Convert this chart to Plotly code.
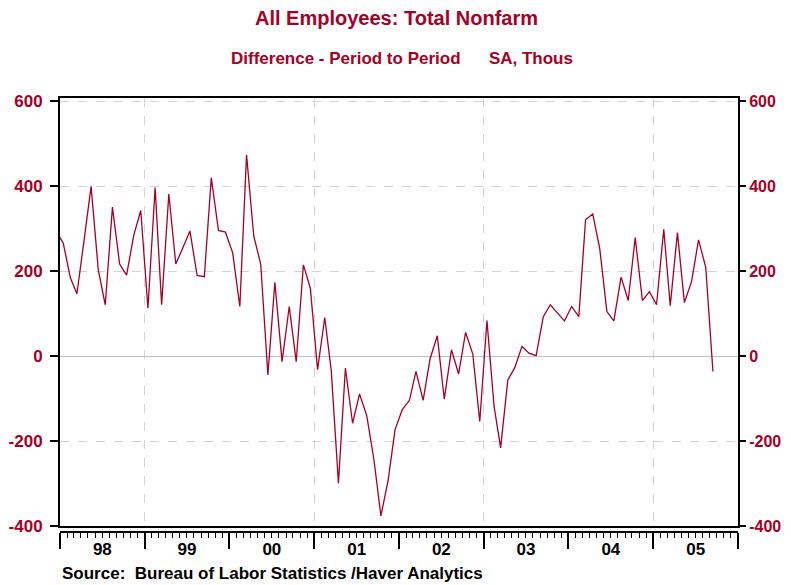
import plotly.graph_objects as go

# ---- data (monthly change, SA, thousands) ----
months = (["1997-12"] +
          [f"{y}-{m:02d}" for y in range(1998, 2005) for m in range(1, 13)] +
          [f"2005-{m:02d}" for m in range(1, 10)])
values_1997 = [295]
values_1998 = [266, 184, 147, 274, 400, 203, 121, 351, 217, 191, 285, 343]
values_1999 = [113, 397, 121, 382, 217, 256, 295, 190, 187, 420, 296, 292]
values_2000 = [244, 117, 474, 283, 217, -44, 174, -13, 117, -13, 215, 160]
values_2001 = [-32, 91, -34, -299, -28, -158, -89, -140, -244, -376, -293, -173]
values_2002 = [-126, -104, -36, -104, -6, 48, -101, 15, -42, 56, 5, -154]
values_2003 = [84, -119, -216, -56, -27, 23, 7, 1, 93, 121, 101, 83]
values_2004 = [117, 93, 321, 335, 254, 105, 83, 186, 131, 279, 131, 152]
values_2005 = [121, 299, 119, 291, 126, 176, 274, 209, -36]
values = (values_1997 + values_1998 + values_1999 + values_2000 + values_2001 +
          values_2002 + values_2003 + values_2004 + values_2005)
dates = [m + "-15" for m in months]

y_ticks = [600, 400, 200, 0, -200, -400]
y_ticktext = [str(v) for v in y_ticks]
x_range = ["1998-01-01", "2006-01-01"]
y_range = [-400, 608]

RED = "#a50026"
FONT = "Liberation Sans, Arial, sans-serif"

# page body has an 8px default margin -> compensate
OFF = 8
W, H = 791 - OFF, 585 - OFF
top = 98 - OFF
bottom_margin = 53
left = 60 - OFF
right = W - (738 - OFF)
paper_h = H - top - bottom_margin
plot_bottom_px = 526 - OFF
dom0 = (H - bottom_margin - plot_bottom_px) / paper_h


def py(px):
    """page pixel (from reference) -> paper fraction"""
    return (H - bottom_margin - (px - OFF)) / paper_h


fig = go.Figure()
fig.add_trace(go.Scatter(x=dates, y=values, mode="lines",
                         line=dict(color=RED, width=1.3), showlegend=False,
                         hoverinfo="x+y"))
# invisible trace to activate the secondary axes
fig.add_trace(go.Scatter(x=dates, y=values, mode="lines", xaxis="x2", yaxis="y2",
                         line=dict(color="rgba(0,0,0,0)", width=0), showlegend=False,
                         hoverinfo="skip"))

fig.update_layout(
    width=W, height=H,
    margin=dict(l=left, r=right, t=top, b=bottom_margin, autoexpand=False),
    paper_bgcolor="white", plot_bgcolor="white",
    font=dict(family=FONT, color="black"),
    xaxis=dict(type="date", range=x_range, showticklabels=False, ticks="",
               showgrid=True, dtick="M24", tick0="1999-01-01",
               gridcolor="#d3d3d3", griddash="dash", gridwidth=1.2,
               showline=True, linecolor="black", linewidth=2, mirror=True,
               zeroline=False, anchor="y"),
    xaxis2=dict(type="date", range=x_range, overlaying="x", anchor="free", position=0,
                side="bottom", showgrid=False, zeroline=False,
                showline=True, linecolor="black", linewidth=2,
                ticks="outside", ticklen=16, tickwidth=2, tickcolor="black",
                dtick="M12", tick0="1998-01-01", tickformat="%y",
                ticklabelmode="period", ticklabelstandoff=-14,
                tickfont=dict(family=FONT, size=17, color="black", weight="bold"),
                minor=dict(dtick="M1", ticks="outside", ticklen=5, tickwidth=1,
                           tickcolor="black", showgrid=False)),
    yaxis=dict(range=y_range, domain=[dom0, 1], tickvals=y_ticks, ticktext=y_ticktext,
               showgrid=True, gridcolor="#d3d3d3", griddash="dash", gridwidth=1.2,
               zeroline=True, zerolinecolor="#c0c0c0", zerolinewidth=1.2,
               showline=True, linecolor="black", linewidth=2, mirror=True,
               ticks="outside", ticklen=8, tickwidth=2, tickcolor="black",
               ticklabelstandoff=4,
               tickfont=dict(family=FONT, size=17, color=RED, weight="bold"),
               anchor="x"),
    yaxis2=dict(range=y_range, domain=[dom0, 1], overlaying="y", side="right",
                tickvals=y_ticks, ticktext=y_ticktext, showgrid=False, zeroline=False,
                ticks="outside", ticklen=7, tickwidth=2, tickcolor="black",
                ticklabelstandoff=0,
                tickfont=dict(family=FONT, size=16, color=RED, weight="bold"),
                anchor="x"),
    annotations=[
        dict(text="<b>All Employees: Total Nonfarm</b>", x=0.497, y=py(18),
             xref="paper", yref="paper", showarrow=False, xanchor="center",
             yanchor="middle", font=dict(family=FONT, size=20, color=RED)),
        dict(text="<b>Difference - Period to Period      SA, Thous</b>", x=0.505, y=py(59),
             xref="paper", yref="paper", showarrow=False, xanchor="center",
             yanchor="middle", font=dict(family=FONT, size=17, color=RED)),
        dict(text="<b>Source:  Bureau of Labor Statistics /Haver Analytics</b>",
             x=0, y=py(573), xref="paper", yref="paper", showarrow=False,
             xanchor="left", yanchor="middle",
             font=dict(family=FONT, size=17, color="black")),
    ],
)

fig.write_html("out.html")
